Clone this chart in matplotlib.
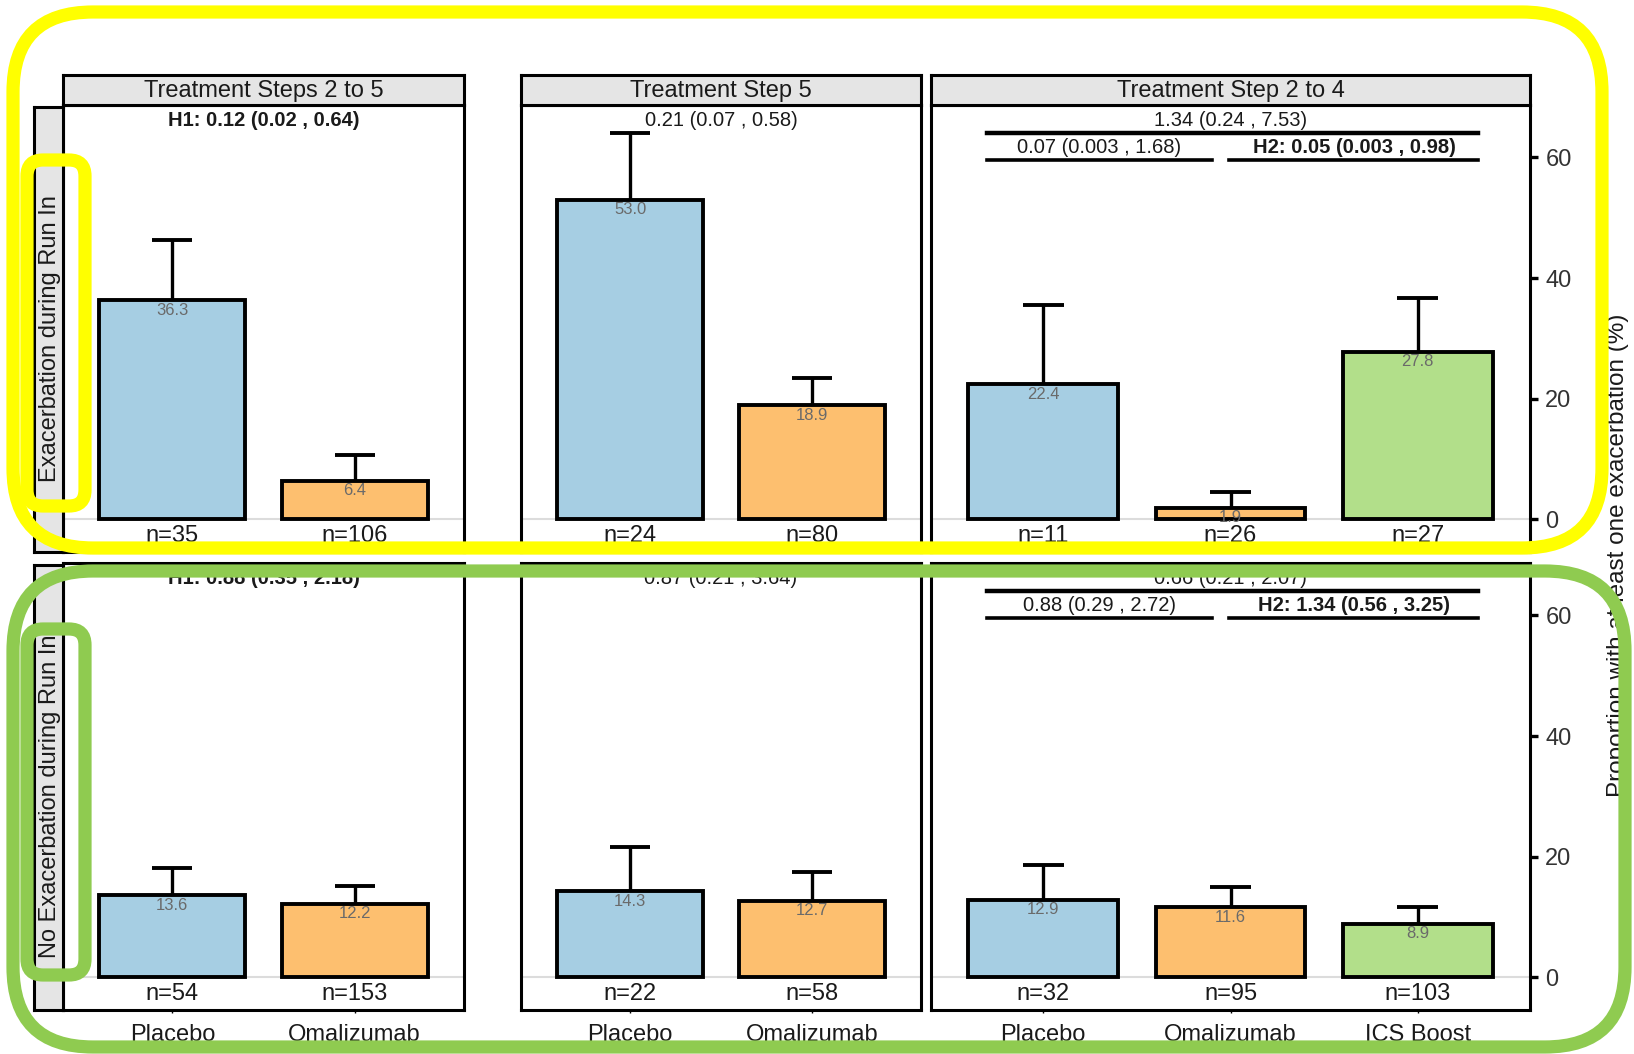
import numpy as np
import matplotlib.pyplot as plt
from matplotlib.patches import FancyBboxPatch

plt.rcParams['font.family'] = ['Liberation Sans', 'DejaVu Sans']

# ---- data ----
col_titles = ['Treatment Steps 2 to 5', 'Treatment Step 5', 'Treatment Step 2 to 4']
row_titles = ['Exacerbation during Run In', 'No Exacerbation during Run In']
groups_2 = ['Placebo', 'Omalizumab']
groups_3 = ['Placebo', 'Omalizumab', 'ICS Boost']

# exacerbation during run in
top_s25 = [36.3, 6.4]
top_s25_hi = [46.3, 10.7]
top_s25_n = [35, 106]
top_s5 = [53.0, 18.9]
top_s5_hi = [64.0, 23.4]
top_s5_n = [24, 80]
top_s24 = [22.4, 1.9, 27.8]
top_s24_hi = [35.5, 4.6, 36.7]
top_s24_n = [11, 26, 27]

# no exacerbation during run in
bot_s25 = [13.6, 12.2]
bot_s25_hi = [18.2, 15.1]
bot_s25_n = [54, 153]
bot_s5 = [14.3, 12.7]
bot_s5_hi = [21.7, 17.4]
bot_s5_n = [22, 58]
bot_s24 = [12.9, 11.6, 8.9]
bot_s24_hi = [18.7, 15.0, 11.6]
bot_s24_n = [32, 95, 103]

# odds ratio annotations
top_or = ['H1: 0.12 (0.02 , 0.64)', '0.21 (0.07 , 0.58)']
top_or_s24 = ['1.34 (0.24 , 7.53)', '0.07 (0.003 , 1.68)', 'H2: 0.05 (0.003 , 0.98)']
bot_or = ['H1: 0.88 (0.35 , 2.18)', '0.87 (0.21 , 3.64)']
bot_or_s24 = ['0.66 (0.21 , 2.07)', '0.88 (0.29 , 2.72)', 'H2: 1.34 (0.56 , 3.25)']

colors = ['#a6cee3', '#fdbf6f', '#b2df8a']

W, H = 1634, 1054
fig = plt.figure(figsize=(W / 100, H / 100), dpi=100)


def px_axes(x0, y0, x1, y1, **kw):
    return fig.add_axes([x0 / W, 1 - y1 / H, (x1 - x0) / W, (y1 - y0) / H], **kw)


cols = [(63, 464), (521, 921), (931, 1530)]
rows = [(105, 552), (563, 1010)]

panel_data = [
    [(top_s25, top_s25_hi, top_s25_n), (top_s5, top_s5_hi, top_s5_n), (top_s24, top_s24_hi, top_s24_n)],
    [(bot_s25, bot_s25_hi, bot_s25_n), (bot_s5, bot_s5_hi, bot_s5_n), (bot_s24, bot_s24_hi, bot_s24_n)],
]
or_simple = [top_or, bot_or]
or_s24 = [top_or_s24, bot_or_s24]

for r, (ry0, ry1) in enumerate(rows):
    for c, (cx0, cx1) in enumerate(cols):
        vals, hi, ns = panel_data[r][c]
        groups = groups_3 if c == 2 else groups_2
        x = np.arange(1, len(vals) + 1)
        ax = px_axes(cx0, ry0, cx1, ry1)
        ax.axhline(0, color='#dcdcdc', lw=1.5, zorder=0)
        ax.bar(x, vals, width=0.8, color=colors[:len(vals)], edgecolor='black', linewidth=2.8, zorder=2)
        ax.vlines(x, vals, hi, color='black', lw=2.4, zorder=1)
        ax.hlines(hi, x - 0.11, x + 0.11, color='black', lw=2.8, zorder=1)
        for xi, v, n in zip(x, vals, ns):
            ax.text(xi, v - 0.4, f'{v:.1f}', ha='center', va='top', fontsize=12, color='#6a6a6a', zorder=3)
            ax.text(xi, -2.8, f'n={n}', ha='center', va='center', fontsize=17, color='#1a1a1a')
        ax.set_xlim(0.4, len(vals) + 0.6)
        ax.set_ylim(-5.4, 68.7)
        for sp in ax.spines.values():
            sp.set_linewidth(2.2)
        if c < 2:
            txt = or_simple[r][c]
            ax.text(1.5, 66.1, txt, ha='center', va='center', fontsize=14.5,
                    fontweight='bold' if txt.startswith('H') else 'normal', color='#1a1a1a')
            ax.set_yticks([])
        else:
            t0, t1, t2 = or_s24[r]
            ax.text(2.0, 66.1, t0, ha='center', va='center', fontsize=14.5, color='#1a1a1a')
            ax.plot([0.7, 3.32], [64.0, 64.0], color='black', lw=3.2)
            ax.text(1.3, 61.7, t1, ha='center', va='center', fontsize=14.5, color='#1a1a1a')
            ax.text(2.66, 61.7, t2, ha='center', va='center', fontsize=14.5, fontweight='bold', color='#1a1a1a')
            ax.plot([0.7, 1.9], [59.6, 59.6], color='black', lw=2.6)
            ax.plot([1.99, 3.32], [59.6, 59.6], color='black', lw=2.6)
            ax.yaxis.tick_right()
            ax.set_yticks([0, 20, 40, 60])
            ax.tick_params(axis='y', length=6, width=2.4, labelsize=17, labelcolor='#333333', pad=5)
        if r == 1:
            ax.set_xticks(x)
            ax.set_xticklabels(groups)
            ax.tick_params(axis='x', length=2, width=1, labelsize=17, labelcolor='#1a1a1a', pad=8)
        else:
            ax.set_xticks([])

# column strips
for c, (cx0, cx1) in enumerate(cols):
    sax = px_axes(cx0, 75, cx1, 105, facecolor='#e5e5e5')
    sax.set_xticks([])
    sax.set_yticks([])
    for sp in sax.spines.values():
        sp.set_linewidth(2.2)
    sax.text(0.5, 0.45, col_titles[c], transform=sax.transAxes, ha='center', va='center',
             fontsize=17, color='#1a1a1a')

# row strips
for r, (ry0, ry1) in enumerate(rows):
    sax = px_axes(34, ry0 + 2, 63, ry1, facecolor='#e5e5e5')
    sax.set_xticks([])
    sax.set_yticks([])
    for sp in sax.spines.values():
        sp.set_linewidth(2.2)
    sax.text(0.55, 0.48, row_titles[r], transform=sax.transAxes, ha='center', va='center',
             rotation=90, fontsize=17, color='#1a1a1a')

fig.text(1618 / W, 1 - 555 / H, 'Proportion with at least one exacerbation (%)', rotation=90,
         ha='center', va='center', fontsize=17.5, color='#1a1a1a')

# highlight boxes drawn over the chart
ov = fig.add_axes([0, 0, 1, 1], zorder=10)
ov.set_xlim(0, W)
ov.set_ylim(H, 0)
ov.axis('off')
ov.patch.set_alpha(0)

boxes = [
    (13, 12, 1602, 548, 80, '#ffff00'),
    (27, 160, 85, 506, 16, '#ffff00'),
    (13, 571, 1625, 1047, 80, '#8fcb50'),
    (27, 629, 85, 975, 16, '#8fcb50'),
]
for x0, y0, x1, y1, rad, col in boxes:
    ov.add_patch(FancyBboxPatch((x0, y0), x1 - x0, y1 - y0,
                                boxstyle=f'round,pad=0,rounding_size={rad}',
                                fill=False, edgecolor=col, linewidth=9.5))

fig.savefig('out.png', dpi=100)
